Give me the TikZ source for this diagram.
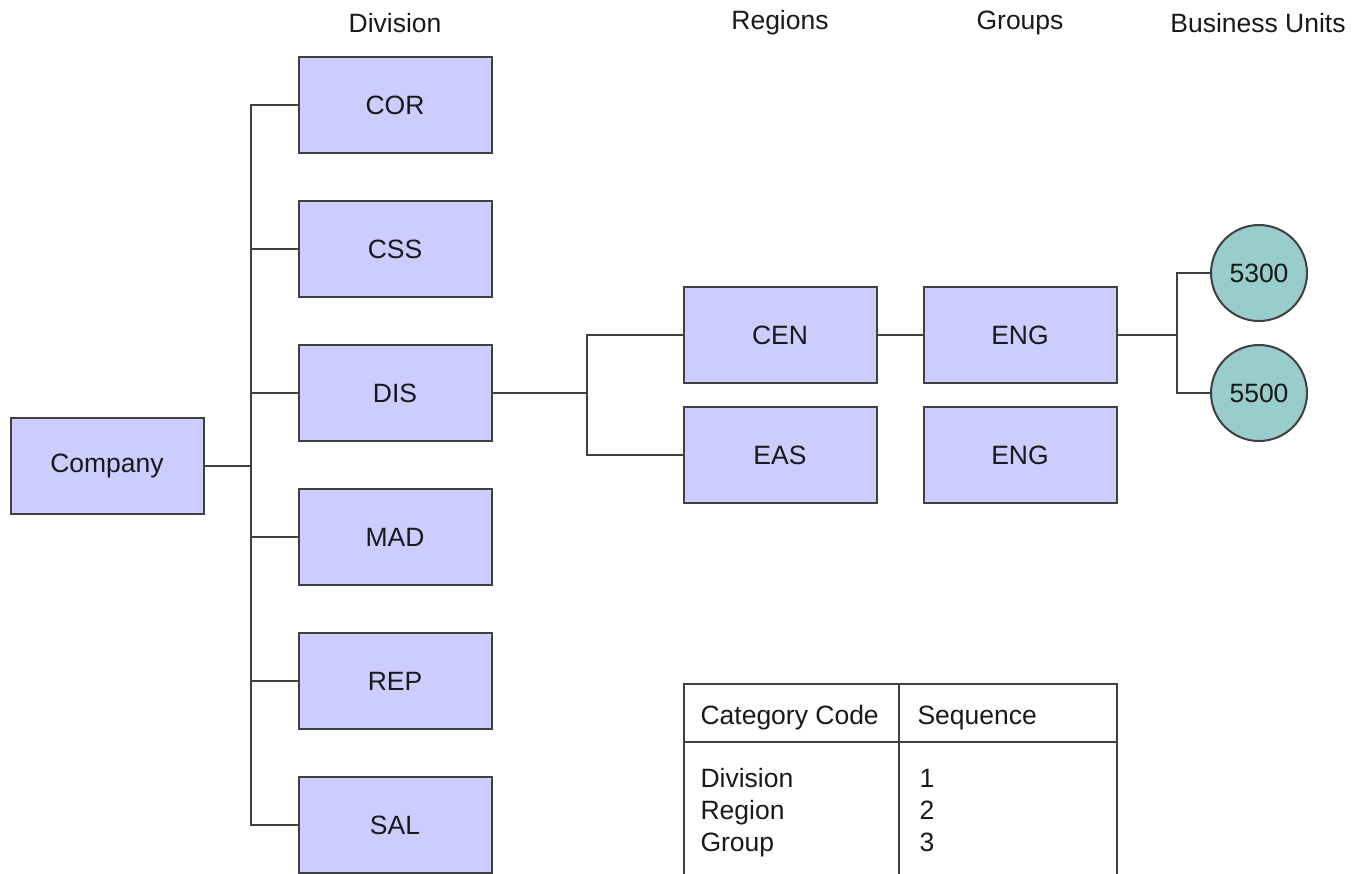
\documentclass[tikz,border=0pt]{standalone}
\usepackage{fontspec}
\setmainfont{Liberation Sans}
\begin{document}
\begin{tikzpicture}[x=1pt,y=-1pt,
  every node/.style={font=\fontsize{26.5}{31}\selectfont, text=black!90},
  unit/.style={draw=black!75, line width=2pt, fill=boxblue, minimum width=193pt, minimum height=96pt, inner sep=0pt},
  bu/.style={draw=black!75, line width=2pt, fill=buteal, circle, minimum size=96pt, inner sep=0pt},
  link/.style={draw=black!75, line width=2pt},
  head/.style={anchor=center}]
\definecolor{boxblue}{RGB}{204,204,255}
\definecolor{buteal}{RGB}{153,204,204}
\useasboundingbox (0,0) rectangle (1359,873);
\clip (0,0) rectangle (1359,873);

% column headings
\node[head] (hdiv) at (395,23) {Division};
\node[head] (hreg) at (780,23) {Regions};
\node[head] (hgrp) at (1020,23) {Groups};
\node[head] (hbu)  at (1258,23) {Business Units};

% company and divisions
\node[unit] (company) at (107,466) {Company};
\node[unit] (cor) at (395,105) {COR};
\node[unit] (css) at (395,249) {CSS};
\node[unit] (dis) at (395,393) {DIS};
\node[unit] (mad) at (395,537) {MAD};
\node[unit] (rep) at (395,681) {REP};
\node[unit] (sal) at (395,825) {SAL};

% regions, groups, business units
\node[unit] (cen) at (780,335) {CEN};
\node[unit] (eas) at (780,455) {EAS};
\node[unit] (eng1) at (1020,335) {ENG};
\node[unit] (eng2) at (1020,455) {ENG};
\node[bu] (b5300) at (1259,273) {5300};
\node[bu] (b5500) at (1259,393) {5500};

% tree connectors
\coordinate (trunk) at (251,466);
\draw[link] (company.east) -- (trunk);
\foreach \d in {cor,css,dis,mad,rep,sal}
  \draw[link] (\d.west) -| (trunk);
\coordinate (rsplit) at (587,393);
\draw[link] (dis.east) -- (rsplit);
\draw[link] (cen.west) -| (rsplit) |- (eas.west);
\draw[link] (cen.east) -- (eng1.west);
\coordinate (bsplit) at (1177,335);
\draw[link] (eng1.east) -- (bsplit);
\draw[link] (b5300.west) -| (bsplit) |- (b5500.west);

% category code table
\node[draw=black!75, line width=2pt, rectangle, minimum width=433pt, minimum height=220pt, anchor=north west, inner sep=0pt] (tbl) at (683,683) {};
\draw[link] (683,742) -- (1116,742);
\draw[link] (899,683) -- (899,903);
\node[anchor=base west] (c1) at (697,724) {Category Code};
\node[anchor=base west] (c2) at (914,724) {Sequence};
\node[anchor=base west] (r1) at (697,787) {Division};
\node[anchor=base west] (r2) at (697,819) {Region};
\node[anchor=base west] (r3) at (697,851) {Group};
\node[anchor=base west] (n1) at (916,787) {1};
\node[anchor=base west] (n2) at (916,819) {2};
\node[anchor=base west] (n3) at (916,851) {3};
\end{tikzpicture}
\end{document}
